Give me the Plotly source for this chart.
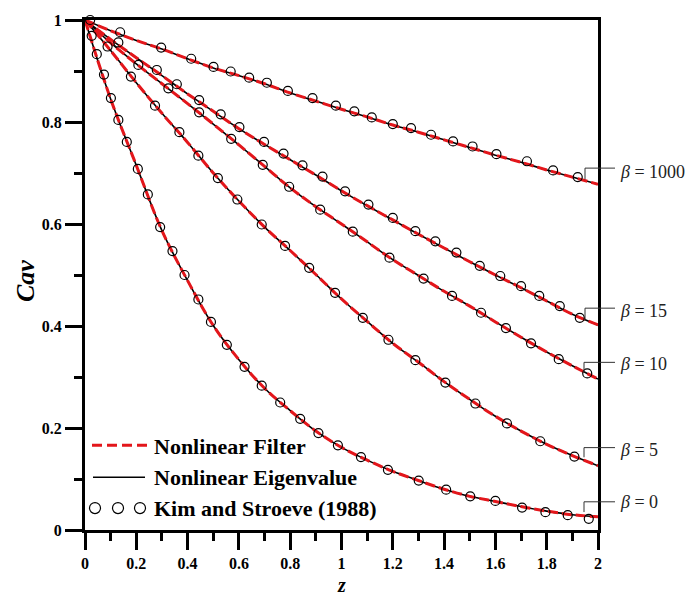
import plotly.graph_objects as go

# ---------------- data ----------------
z_grid = [0.0, 0.1, 0.2, 0.3, 0.4, 0.5, 0.6, 0.7, 0.8, 0.9, 1.0,
          1.1, 1.2, 1.3, 1.4, 1.5, 1.6, 1.7, 1.8, 1.9, 2.0]

cav_b1000 = [1.0, 0.979, 0.960, 0.943, 0.924, 0.906, 0.891, 0.875, 0.857, 0.841, 0.825,
             0.810, 0.794, 0.780, 0.765, 0.750, 0.735, 0.721, 0.706, 0.692, 0.678]
cav_b15 = [1.0, 0.962, 0.926, 0.891, 0.855, 0.821, 0.787, 0.756, 0.726, 0.696, 0.665,
           0.636, 0.608, 0.580, 0.553, 0.526, 0.500, 0.475, 0.449, 0.423, 0.402]
cav_b10 = [1.0, 0.955, 0.914, 0.875, 0.836, 0.796, 0.755, 0.713, 0.671, 0.634, 0.600,
           0.565, 0.530, 0.499, 0.468, 0.439, 0.408, 0.378, 0.349, 0.322, 0.296]
cav_b5 = [1.0, 0.940, 0.877, 0.817, 0.760, 0.700, 0.645, 0.594, 0.548, 0.501, 0.453,
          0.409, 0.366, 0.329, 0.291, 0.256, 0.223, 0.194, 0.168, 0.146, 0.126]
cav_b0 = [1.0, 0.845, 0.715, 0.587, 0.489, 0.401, 0.334, 0.278, 0.234, 0.194, 0.162,
          0.137, 0.115, 0.097, 0.080, 0.066, 0.056, 0.046, 0.037, 0.030, 0.026]

# Kim and Stroeve (1988) points
ks_b1000_z = [0.137, 0.297, 0.414, 0.501, 0.568, 0.640, 0.709, 0.791, 0.887, 0.978, 1.050,
              1.118, 1.200, 1.271, 1.349, 1.435, 1.511, 1.604, 1.723, 1.825, 1.921]
ks_b1000_c = [0.976, 0.946, 0.924, 0.908, 0.899, 0.887, 0.877, 0.861, 0.847, 0.832, 0.821,
              0.809, 0.796, 0.788, 0.775, 0.762, 0.752, 0.737, 0.723, 0.705, 0.692]
ks_b15_z = [0.130, 0.280, 0.358, 0.445, 0.529, 0.602, 0.698, 0.774, 0.848, 0.926, 1.014,
            1.105, 1.200, 1.288, 1.366, 1.448, 1.539, 1.619, 1.700, 1.771, 1.851, 1.929]
ks_b15_c = [0.956, 0.902, 0.874, 0.843, 0.815, 0.790, 0.761, 0.738, 0.715, 0.693, 0.664,
            0.638, 0.612, 0.586, 0.566, 0.544, 0.518, 0.498, 0.478, 0.459, 0.439, 0.416]
ks_b10_z = [0.208, 0.325, 0.445, 0.570, 0.693, 0.796, 0.917, 1.044, 1.187, 1.320, 1.431,
            1.544, 1.641, 1.739, 1.847, 1.958]
ks_b10_c = [0.912, 0.866, 0.819, 0.767, 0.716, 0.673, 0.628, 0.585, 0.534, 0.493, 0.459,
            0.426, 0.396, 0.366, 0.335, 0.307]
ks_b5_z = [0.088, 0.179, 0.273, 0.368, 0.442, 0.518, 0.594, 0.689, 0.780, 0.874, 0.975,
           1.083, 1.183, 1.288, 1.405, 1.522, 1.645, 1.775, 1.908]
ks_b5_c = [0.948, 0.889, 0.832, 0.780, 0.734, 0.690, 0.648, 0.599, 0.557, 0.514, 0.465,
           0.416, 0.373, 0.333, 0.289, 0.248, 0.209, 0.174, 0.144]
ks_b0_z = [0.020, 0.026, 0.046, 0.074, 0.101, 0.130, 0.163, 0.206, 0.245, 0.293, 0.341,
           0.388, 0.442, 0.491, 0.553, 0.622, 0.689, 0.761, 0.839, 0.910, 0.986,
           1.076, 1.181, 1.301, 1.408, 1.502, 1.600, 1.704, 1.795, 1.882, 1.964]
ks_b0_c = [1.000, 0.969, 0.933, 0.893, 0.847, 0.804, 0.761, 0.708, 0.658, 0.594, 0.547,
           0.500, 0.452, 0.408, 0.363, 0.320, 0.283, 0.250, 0.218, 0.190, 0.166,
           0.143, 0.118, 0.097, 0.079, 0.066, 0.057, 0.044, 0.035, 0.029, 0.022]

beta_labels = ["1000", "15", "10", "5", "0"]
x_ticks = [0, 0.2, 0.4, 0.6, 0.8, 1, 1.2, 1.4, 1.6, 1.8, 2]
y_ticks = [0, 0.2, 0.4, 0.6, 0.8, 1]

legend_names = ["Nonlinear Filter", "Nonlinear Eigenvalue", "Kim and Stroeve (1988)"]

# ---------------- layout helpers ----------------
W, H = 693, 597
ML, MR, MT, MB = 85, 95, 18, 67
PW, PH = W - ML - MR, H - MT - MB


def xp(px):
    return (px - ML) / PW


def yp(py):
    return (H - MB - py) / PH


SERIF = "Liberation Serif"
RED = "#e3161b"

fig = go.Figure()

curves = [cav_b1000, cav_b15, cav_b10, cav_b5, cav_b0]
points = [(ks_b1000_z, ks_b1000_c), (ks_b15_z, ks_b15_c), (ks_b10_z, ks_b10_c),
          (ks_b5_z, ks_b5_c), (ks_b0_z, ks_b0_c)]

for c in curves:
    fig.add_trace(go.Scatter(x=z_grid, y=c, mode="lines", line_shape="spline",
                             line=dict(color="black", width=1.6), showlegend=False,
                             hoverinfo="skip"))
for c in curves:
    fig.add_trace(go.Scatter(x=z_grid, y=c, mode="lines", line_shape="spline",
                             line=dict(color=RED, width=3, dash="10px,4px"),
                             showlegend=False, hoverinfo="skip"))
for zz, cc in points:
    fig.add_trace(go.Scatter(x=zz, y=cc, mode="markers", cliponaxis=False,
                             marker=dict(symbol="circle-open", size=9, color="black",
                                         line=dict(width=1.2, color="black")),
                             showlegend=False))

shapes = []
annotations = []

# beta labels with bracket leaders
label_geo = [  # (x vertical, y bottom, y top, text y) in pixels
    (585, 178, 166.7, 170.5),
    (585, 320, 307.3, 310),
    (584, 371.7, 361.7, 363),
    (584, 457, 447.3, 450),
    (584, 512, 501.7, 502),
]
for lab, (xv, yb, yt, ty) in zip(beta_labels, label_geo):
    shapes.append(dict(type="path", xref="paper", yref="paper",
                       path=f"M {xp(xv)},{yp(yb)} L {xp(xv)},{yp(yt)} L {xp(615)},{yp(yt)}",
                       line=dict(color="#333", width=1)))
    annotations.append(dict(xref="paper", yref="paper", x=xp(618), y=yp(ty),
                            xanchor="left", yanchor="middle", showarrow=False,
                            text=f"<i>β</i> = {lab}",
                            font=dict(family=SERIF, size=18, color="#222")))

# manual legend
leg_font = dict(family=SERIF, size=22, color="black", weight="bold")
shapes.append(dict(type="line", xref="paper", yref="paper", x0=xp(92), x1=xp(147),
                   y0=yp(445), y1=yp(445), line=dict(color=RED, width=3, dash="10px,5px")))
shapes.append(dict(type="line", xref="paper", yref="paper", x0=xp(93), x1=xp(145),
                   y0=yp(477), y1=yp(477), line=dict(color="black", width=1.6)))
for cx in (95, 118, 140):
    shapes.append(dict(type="circle", xref="paper", yref="paper",
                       xsizemode="pixel", ysizemode="pixel",
                       xanchor=xp(cx), yanchor=yp(508),
                       x0=-5.5, x1=5.5, y0=-5.5, y1=5.5,
                       line=dict(color="black", width=1.2)))
for name, ty in zip(legend_names, (446, 477, 508)):
    annotations.append(dict(xref="paper", yref="paper", x=xp(152), y=yp(ty),
                            xanchor="left", yanchor="middle", showarrow=False,
                            text=name, font=leg_font))

# axis titles
annotations.append(dict(xref="paper", yref="paper", x=xp(341.5), y=yp(585),
                        xanchor="center", yanchor="middle", showarrow=False,
                        borderpad=0,
                        text="<i>z</i>",
                        font=dict(family=SERIF, size=20, color="black", weight="bold")))
annotations.append(dict(xref="paper", yref="paper", x=xp(26), y=yp(280),
                        xanchor="center", yanchor="middle", showarrow=False,
                        textangle=-90, text="<i>Cav</i>",
                        font=dict(family=SERIF, size=26, color="black", weight="bold")))

tickfont = dict(family=SERIF, size=16, color="black", weight="bold")
axis_common = dict(showline=True, linewidth=3, linecolor="black", mirror=True,
                   ticks="outside", ticklen=17, tickwidth=3, tickcolor="black",
                   showgrid=False, zeroline=False, tickfont=tickfont)

fig.update_layout(
    width=W, height=H,
    margin=dict(l=ML, r=MR, t=MT, b=MB, pad=0),
    paper_bgcolor="white", plot_bgcolor="white",
    showlegend=False,
    xaxis=dict(range=[0, 2], tickvals=x_ticks,
               minor=dict(ticks="outside", ticklen=8, tickwidth=3, tickcolor="black",
                          dtick=0.1, showgrid=False),
               **axis_common),
    yaxis=dict(range=[0, 1], tickvals=y_ticks,
               minor=dict(ticks="outside", ticklen=8, tickwidth=3, tickcolor="black",
                          dtick=0.1, showgrid=False),
               **axis_common),
    shapes=shapes,
    annotations=annotations,
)

fig.write_html("out.html")
